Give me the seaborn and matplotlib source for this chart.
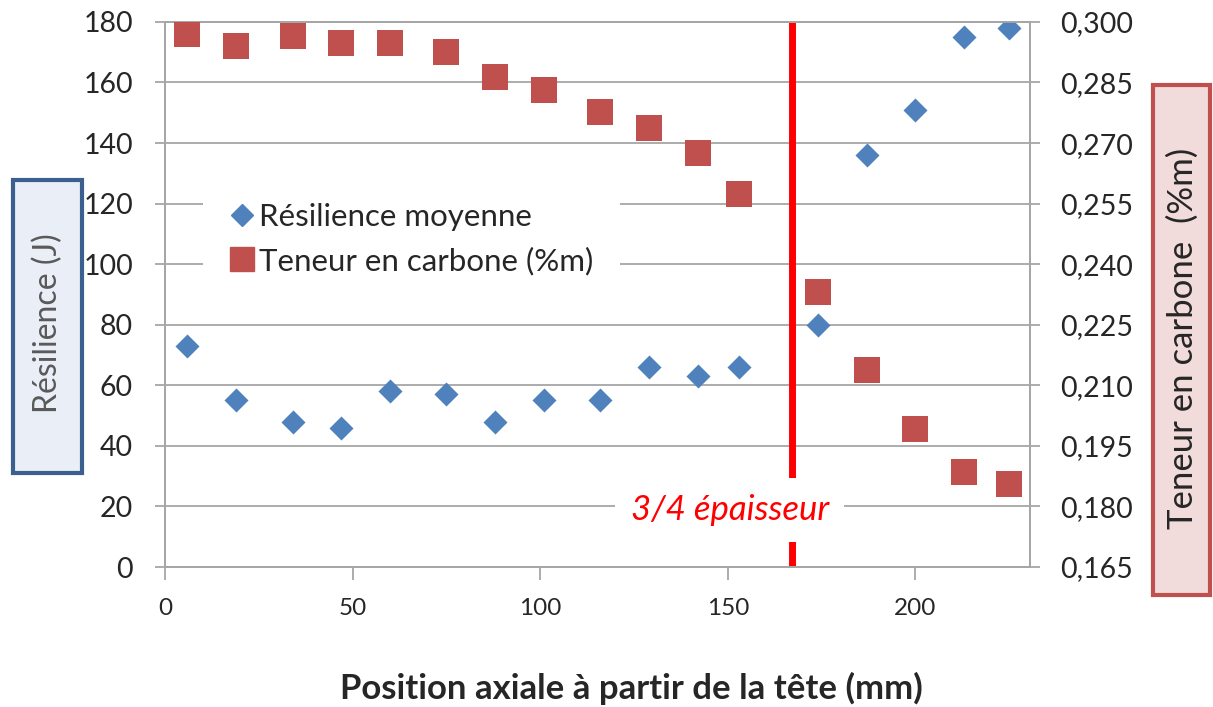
import matplotlib
matplotlib.use("Agg")
import matplotlib.pyplot as plt
import seaborn as sns
import pandas as pd
from matplotlib.lines import Line2D
from matplotlib.patches import Rectangle

# ---- data ----
position_mm = [6, 19, 34, 47, 60, 75, 88, 101, 116, 129, 142, 153, 174, 187, 200, 213, 225]
resilience_J = [73, 55, 48, 46, 58, 57, 48, 55, 55, 66, 63, 66, 80, 136, 151, 175, 178]
carbone_pct = [0.297, 0.294, 0.2965, 0.2947, 0.2947, 0.2925, 0.2863, 0.2832, 0.2777,
               0.2738, 0.2676, 0.2574, 0.2332, 0.2137, 0.1993, 0.1886, 0.1856]

left_ticks = [0, 20, 40, 60, 80, 100, 120, 140, 160, 180]
right_ticks = [0.165, 0.180, 0.195, 0.210, 0.225, 0.240, 0.255, 0.270, 0.285, 0.300]
right_tick_labels = ["0,165", "0,180", "0,195", "0,210", "0,225", "0,240",
                     "0,255", "0,270", "0,285", "0,300"]
x_ticks = [0, 50, 100, 150, 200]
seuil_x = 167
seuil_label = "3/4 épaisseur"
legend_labels = ["Résilience moyenne", "Teneur en carbone (%m)"]

df = pd.DataFrame({"position": position_mm, "resilience": resilience_J, "carbone": carbone_pct})

sns.set_theme(style="white")
plt.rcParams["font.family"] = ["Lato", "DejaVu Sans"]

BLUE = "#4f81bd"
RED = "#c0504d"
GRID = "#a6a6a6"
TXT = "#262626"

fig = plt.figure(figsize=(12.13, 7.07), dpi=100)
ax = fig.add_axes([0.136, 0.198, 0.713, 0.771])
ax2 = ax.twinx()

ax.set_xlim(0, 230.5)
ax.set_ylim(0, 180)
ax2.set_ylim(0.165, 0.300)

ax.axvline(seuil_x, color="#ff0000", lw=5, zorder=2.5)

sns.scatterplot(data=df, x="position", y="resilience", ax=ax, marker="D", s=150,
                color=BLUE, linewidth=0, zorder=3, legend=False)
sns.scatterplot(data=df, x="position", y="carbone", ax=ax2, marker="s", s=330,
                color=RED, linewidth=0, zorder=3, legend=False)

ax.set_yticks(left_ticks)
ax.set_xticks(x_ticks)
ax2.set_yticks(right_ticks)
ax2.set_yticklabels(right_tick_labels)

ax.yaxis.grid(True, color=GRID, lw=1.3)
ax.xaxis.grid(False)
ax.set_axisbelow(True)
ax2.grid(False)

for a in (ax, ax2):
    for s in a.spines.values():
        s.set_color(GRID)
        s.set_linewidth(1.3)

ax.tick_params(axis="y", left=True, direction="out", length=7, width=1.3, color=GRID,
               pad=16, labelsize=20.5, labelcolor=TXT)
ax.tick_params(axis="x", bottom=True, direction="out", length=9, width=1.3, color=GRID,
               pad=13, labelsize=17.5, labelcolor=TXT)
ax2.tick_params(axis="y", right=True, direction="out", length=7, width=1.3, color=GRID,
                pad=15, labelsize=20.5, labelcolor=TXT)

ax.set_ylabel("")
ax2.set_ylabel("")
ax.set_xlabel("Position axiale à partir de la tête (mm)", fontsize=25,
              fontweight="bold", color=TXT)
ax.xaxis.set_label_coords(0.539, -0.222)
ax.xaxis.label.set_va("center")

# threshold annotation
ax2.text(150.5, 18.8, seuil_label, transform=ax.transData, color="#ff0000",
         fontsize=25, fontstyle="italic", ha="center", va="center", zorder=10,
         bbox=dict(boxstyle="square,pad=0.45", fc="white", ec="none"))

# legend
handles = [Line2D([], [], marker="D", ls="none", color=BLUE, markersize=11),
           Line2D([], [], marker="s", ls="none", color=RED, markersize=17)]
leg = ax2.legend(handles, legend_labels, loc="upper left", bbox_to_anchor=(0.044, 0.717),
                 frameon=True, facecolor="white", edgecolor="none", framealpha=1,
                 fontsize=22.5, handletextpad=0.15, handlelength=0.8, borderpad=0.85,
                 labelspacing=0.5, borderaxespad=0)
for t in leg.get_texts():
    t.set_color(TXT)
leg.set_zorder(10)

# boxed axis titles
fig.patches.append(Rectangle((13 / 1213, 1 - 473 / 707), 69 / 1213, 293 / 707,
                             transform=fig.transFigure, fc="#e9eef7", ec="#3b5f8f",
                             lw=3, zorder=1))
fig.text(47.5 / 1213, 1 - 323 / 707, "Résilience (J)", rotation=90, ha="center",
         va="center", fontsize=23, color="#595959")

fig.patches.append(Rectangle((1153 / 1213, 1 - 595 / 707), 57 / 1213, 510 / 707,
                             transform=fig.transFigure, fc="#f2dcdb", ec="#c0504d",
                             lw=3, zorder=1))
fig.text(1183 / 1213, 1 - 338 / 707, "Teneur en carbone  (%m)", rotation=90, ha="center",
         va="center", fontsize=25, color=TXT)

fig.savefig("out.png", dpi=100)
